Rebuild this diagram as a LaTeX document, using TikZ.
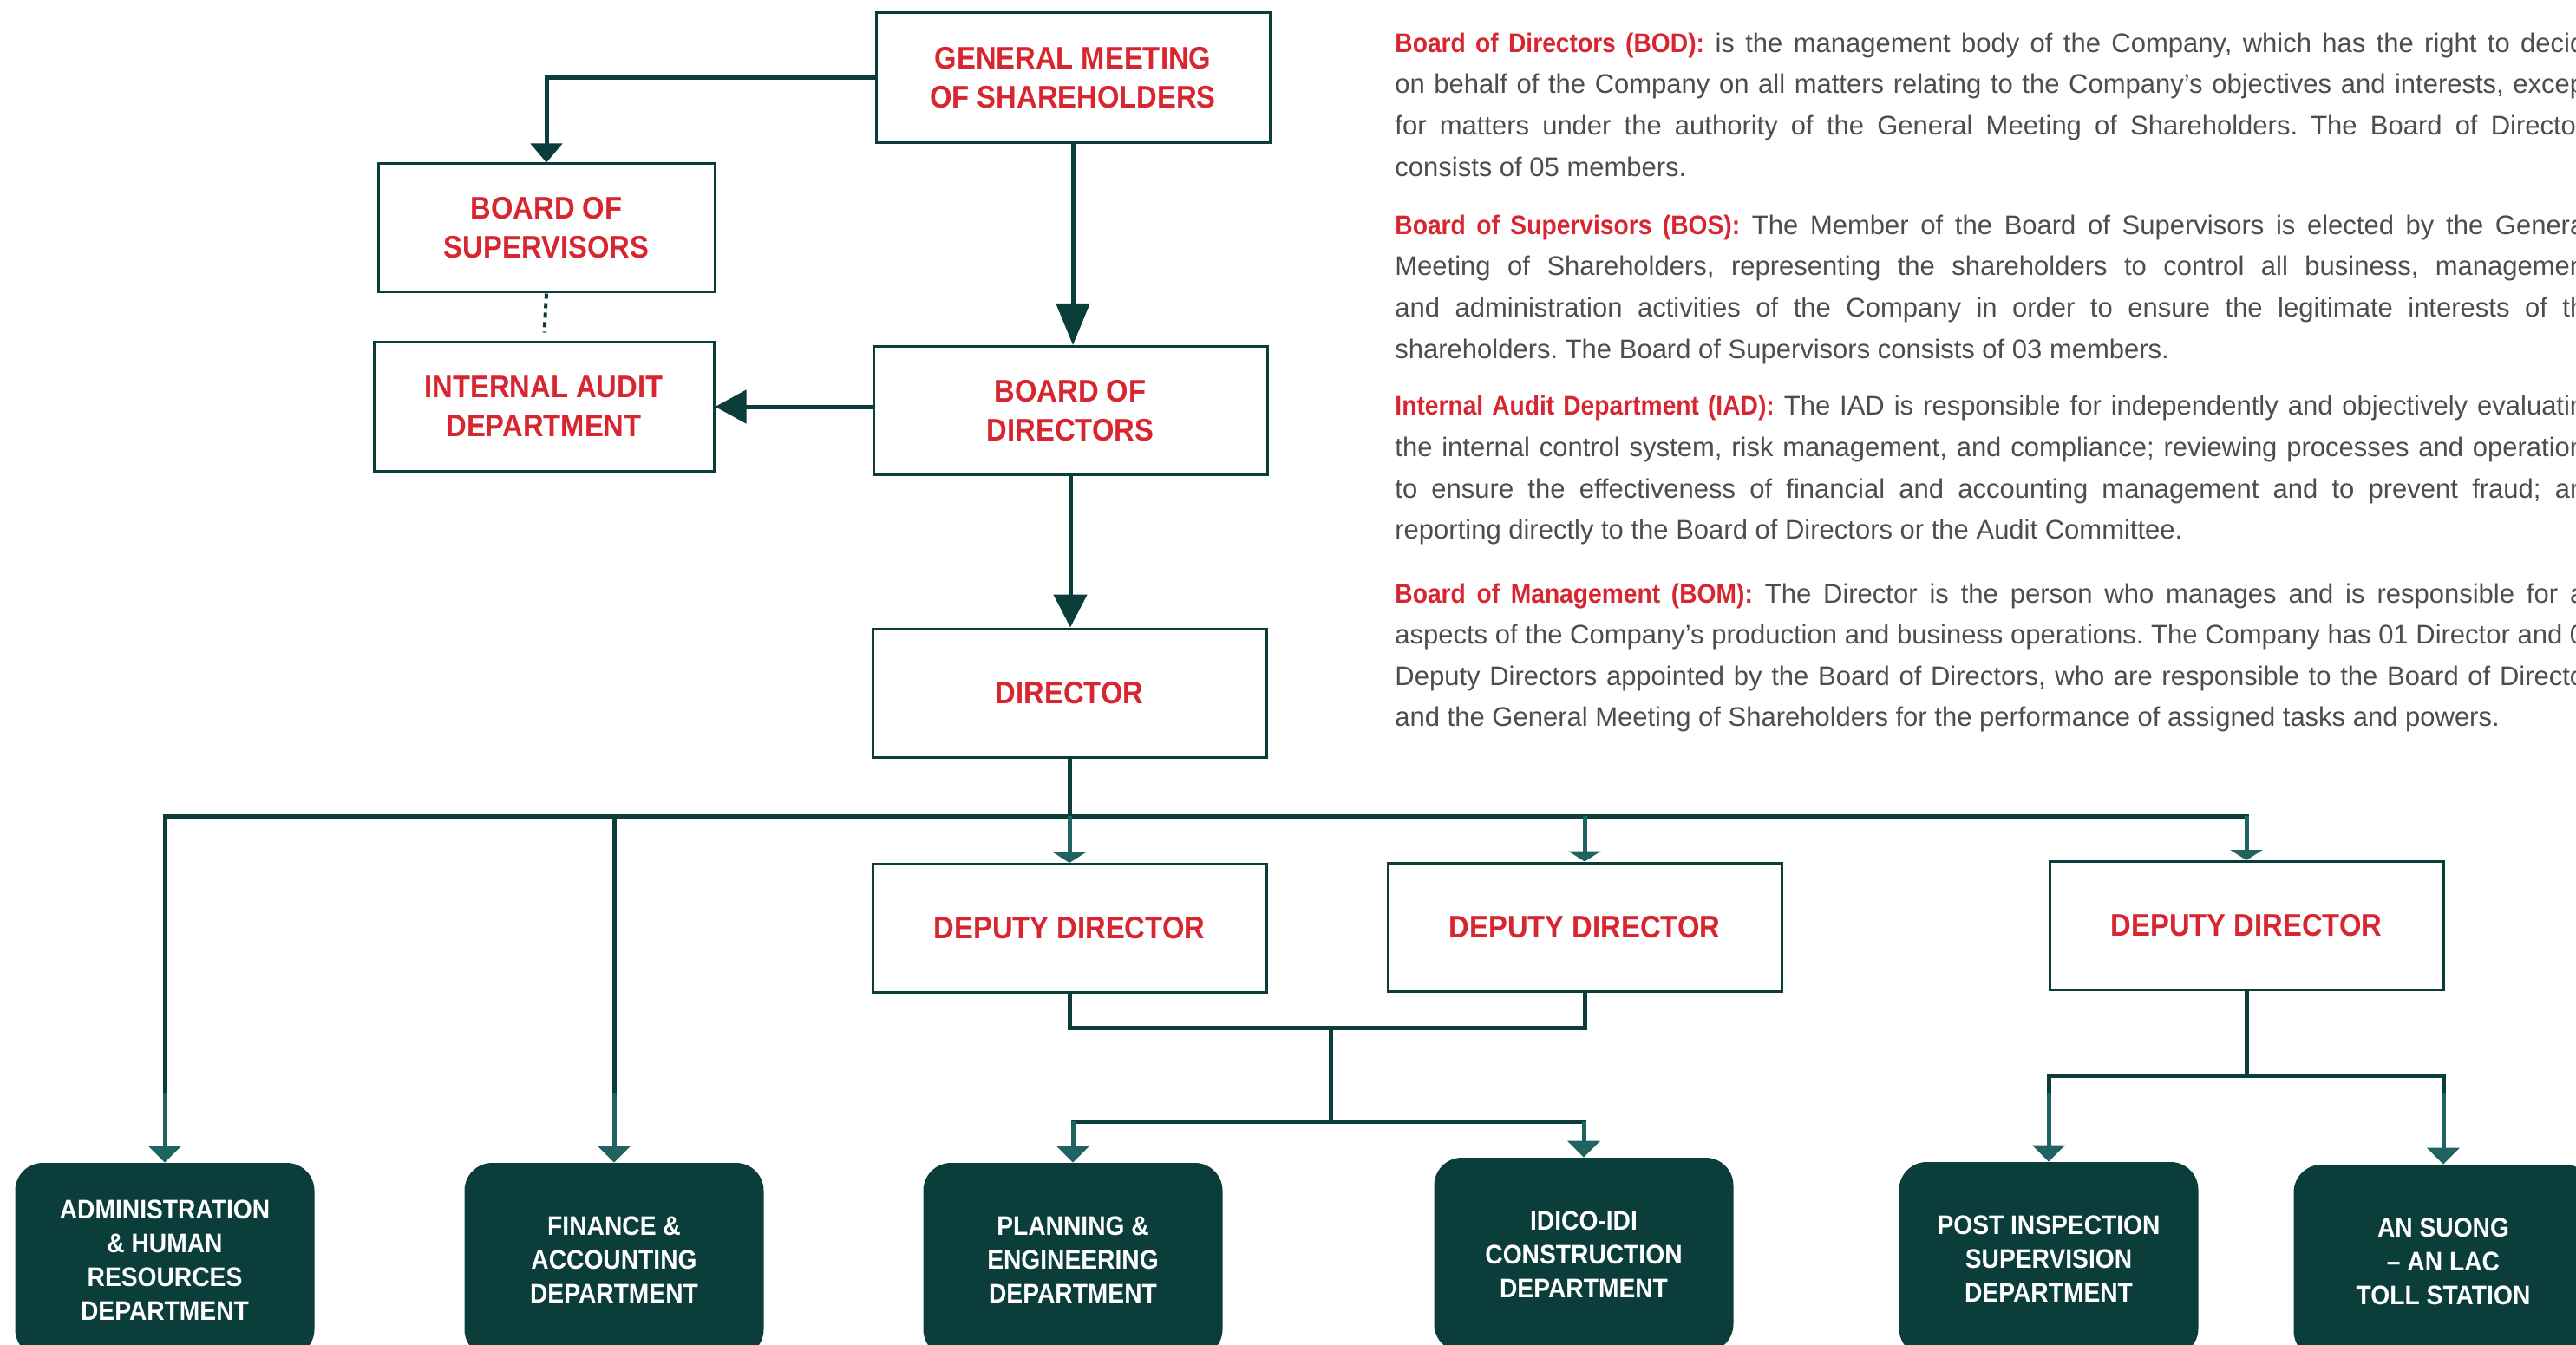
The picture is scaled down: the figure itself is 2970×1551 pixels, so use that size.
\documentclass[tikz,border=0pt]{standalone}
\usepackage{fontspec}
\setmainfont{Liberation Sans}[BoldFeatures={FakeStretch=0.91}]
\usetikzlibrary{arrows.meta}
\frenchspacing

\definecolor{orgdark}{RGB}{11,61,59}
\definecolor{orglight}{RGB}{31,100,97}
\definecolor{orgred}{RGB}{215,38,47}
\definecolor{orggray}{RGB}{77,77,77}

\newcommand{\notehead}[1]{\textcolor{orgred}{\bfseries #1}}
\newcommand{\fullline}[1]{\makebox[686pt][s]{#1}}

\tikzset{
  topbox/.style={draw=orgdark,line width=1.5pt,fill=white,minimum width=227pt,minimum height=74pt,inner sep=0pt,align=center,text=orgred,font=\bfseries\fontsize{18}{22.5}\selectfont},
  unitbox/.style={fill=orgdark,rounded corners=16pt,minimum width=172.5pt,minimum height=112pt,inner sep=0pt,align=center,text=white,font=\bfseries\fontsize{15.5}{19.5}\selectfont},
  link/.style={draw=orgdark,line width=2.5pt},
  bus/.style={link,line cap=rect},
  lead/.style={link,-{Triangle[width=19pt,length=#1]}},
  feed/.style={draw=orglight,line width=2.5pt,-{Triangle[width=18.5pt,length=#1]}},
  feed/.default=9.5pt,
  note/.style={anchor=base west,inner sep=0pt,text=orggray,font=\fontsize{15.5}{23.75}\selectfont}
}

\begin{document}
\begin{tikzpicture}[x=0.5pt,y=0.5pt,yscale=-1,xscale=1]
\clip (0,0) rectangle (2970,1551);
\useasboundingbox (0,0) rectangle (2970,1551);

%Shape: Rectangle
\node[topbox,minimum height=75pt] (gms) at (1237,90) {GENERAL MEETING\\OF SHAREHOLDERS};
\node[topbox,minimum width=194pt] (bos) at (630,263) {BOARD OF\\SUPERVISORS};
\node[topbox,minimum width=196pt] (iad) at (627,469) {INTERNAL AUDIT\\DEPARTMENT};
\node[topbox] (bod) at (1234,473.5) {BOARD OF\\DIRECTORS};
\node[topbox] (dir) at (1233,799) {DIRECTOR};
\node[topbox] (dd1) at (1233,1070.5) {DEPUTY DIRECTOR};
\node[topbox] (dd2) at (1827,1069) {DEPUTY DIRECTOR};
\node[topbox] (dd3) at (2590,1067.5) {DEPUTY DIRECTOR};

%Shape: Rounded Rect
\node[unitbox] (admin) at (190,1453) {ADMINISTRATION\\\& HUMAN\\RESOURCES\\DEPARTMENT};
\node[unitbox] (fin) at (708,1453) {FINANCE \&\\ACCOUNTING\\DEPARTMENT};
\node[unitbox] (plan) at (1237,1453) {PLANNING \&\\ENGINEERING\\DEPARTMENT};
\node[unitbox] (idico) at (1826,1447) {IDICO-IDI\\CONSTRUCTION\\DEPARTMENT};
\node[unitbox] (post) at (2362,1452) {POST INSPECTION\\SUPERVISION\\DEPARTMENT};
\node[unitbox] (toll) at (2817,1455) {AN SUONG\\– AN LAC\\TOLL STATION};

\coordinate (rail) at (0,941);
\coordinate (fade) at (0,1260);
\coordinate (join) at (1534,1185);
\coordinate (split) at (0,1293);
\coordinate (fork) at (0,1240);

%Straight Lines
\draw[link,-{Triangle[width=18pt,length=11pt]}] (gms.west) -| (bos.north);
\draw[lead=24pt] (gms.south) -- (gms.south |- bod.north);
\draw[orgdark,line width=2pt,dash pattern={on 3pt off 2.5pt},shorten >=5pt] (bos.south) -- (iad.north);
\draw[lead=18pt] (bod.west |- iad.east) -- (iad.east);
\draw[lead=19pt] (bod.south) -- (bod.south |- dir.north);

%Straight Lines
\draw[link] (dir.south) -- (dir.south |- rail);
\draw[bus] (admin.north |- fade) -- (admin.north |- rail) -- (dd3.north |- rail);
\draw[link] (fin.north |- rail) -- (fin.north |- fade);
\draw[feed] (admin.north |- fade) -- (admin.north);
\draw[feed] (fin.north |- fade) -- (fin.north);
\draw[feed=6pt] (dd1.north |- rail) -- (dd1.north);
\draw[feed=6pt] (dd2.north |- rail) -- (dd2.north);
\draw[feed=6pt] (dd3.north |- rail) -- (dd3.north);

%Straight Lines
\draw[link] (dd1.south) |- (join) -| (dd2.south);
\draw[link] (join) -- (join |- split);
\draw[bus] (plan.north |- split) -- (idico.north |- split);
\draw[feed] (plan.north |- split) -- (plan.north);
\draw[feed] (idico.north |- split) -- (idico.north);

%Straight Lines
\draw[link] (dd3.south) -- (dd3.south |- fork);
\draw[bus] (post.north |- fade) -- (post.north |- fork) -- (toll.north |- fork) -- (toll.north |- fade);
\draw[feed] (post.north |- fade) -- (post.north);
\draw[feed] (toll.north |- fade) -- (toll.north);

% Text Node
\node[note] (bod-a) at (1608,61) {\fullline{\notehead{Board of Directors (BOD):} is the management body of the Company, which has the right to decid}};
\node[note] (bod-b) at (1608,108) {\fullline{on behalf of the Company on all matters relating to the Company’s objectives and interests, excep}};
\node[note] (bod-c) at (1608,156) {\fullline{for matters under the authority of the General Meeting of Shareholders. The Board of Director}};
\node[note] (bod-d) at (1608,204) {consists of 05 members.};
% Text Node
\node[note] (bos-a) at (1608,271) {\fullline{\notehead{Board of Supervisors (BOS):} The Member of the Board of Supervisors is elected by the Genera}};
\node[note] (bos-b) at (1608,318) {\fullline{Meeting of Shareholders, representing the shareholders to control all business, managemen}};
\node[note] (bos-c) at (1608,366) {\fullline{and administration activities of the Company in order to ensure the legitimate interests of th}};
\node[note] (bos-d) at (1608,414) {shareholders. The Board of Supervisors consists of 03 members.};
% Text Node
\node[note] (iad-a) at (1608,478) {\fullline{\notehead{Internal Audit Department (IAD):} The IAD is responsible for independently and objectively evaluatin}};
\node[note] (iad-b) at (1608,526) {\fullline{the internal control system, risk management, and compliance; reviewing processes and operation}};
\node[note] (iad-c) at (1608,574) {\fullline{to ensure the effectiveness of financial and accounting management and to prevent fraud; an}};
\node[note] (iad-d) at (1608,621) {reporting directly to the Board of Directors or the Audit Committee.};
% Text Node
\node[note] (bom-a) at (1608,695) {\fullline{\notehead{Board of Management (BOM):} The Director is the person who manages and is responsible for a}};
\node[note] (bom-b) at (1608,742) {\fullline{aspects of the Company’s production and business operations. The Company has 01 Director and 0}};
\node[note] (bom-c) at (1608,790) {\fullline{Deputy Directors appointed by the Board of Directors, who are responsible to the Board of Directo}};
\node[note] (bom-d) at (1608,837) {and the General Meeting of Shareholders for the performance of assigned tasks and powers.};

\end{tikzpicture}
\end{document}
